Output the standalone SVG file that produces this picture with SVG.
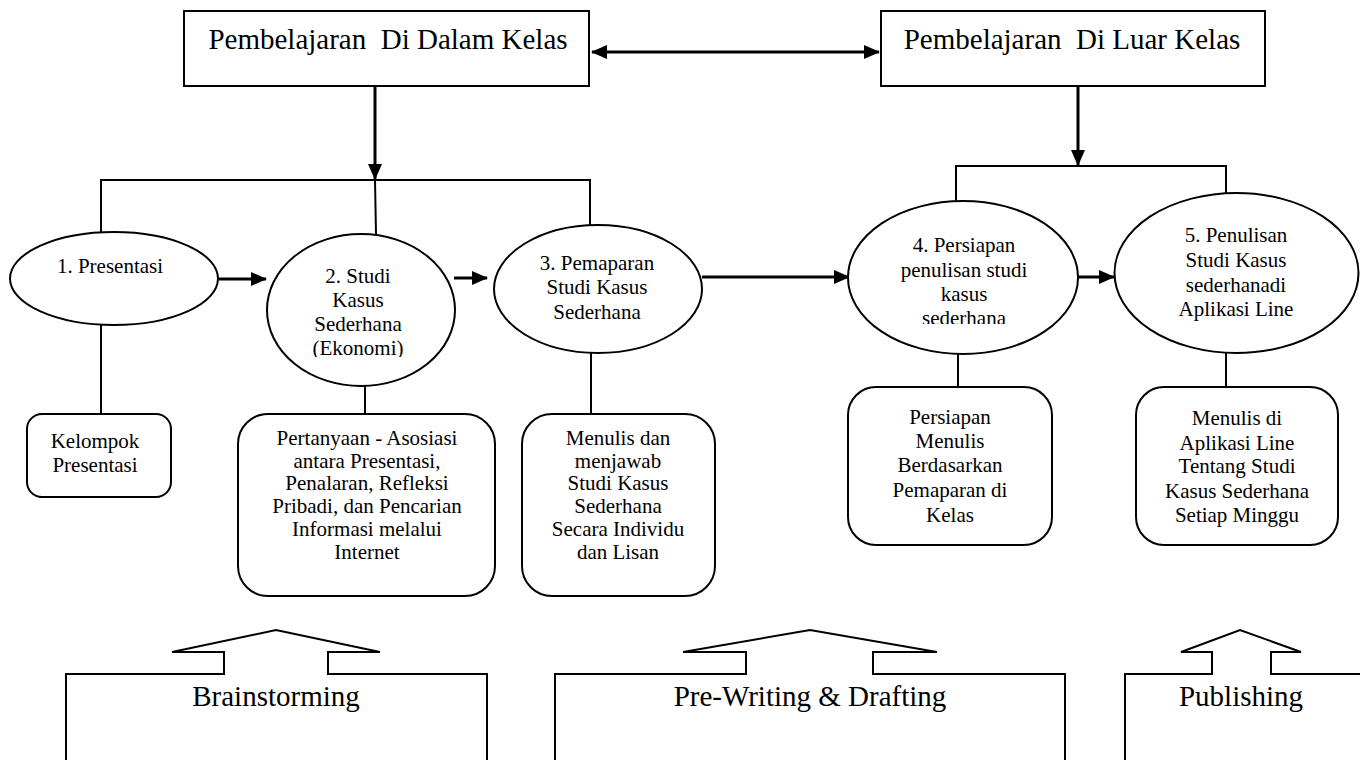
<svg xmlns="http://www.w3.org/2000/svg" width="1360" height="760" viewBox="0 0 1360 760">
<style>
  .shape { fill: #fff; stroke: #000; stroke-width: 2; }
  .line { fill: none; stroke: #000; stroke-width: 2; }
  .arrow { fill: none; stroke: #000; stroke-width: 3; }
  .outline { fill: none; stroke: #000; stroke-width: 2; stroke-linejoin: miter; }
  text { font-family: "Liberation Serif", "Times New Roman", serif; fill: #000; text-anchor: middle; }
  .head { font-size: 29px; }
  .t { font-size: 21px; }
</style>
<defs>
  <marker id="ah" markerUnits="userSpaceOnUse" markerWidth="16" markerHeight="14" refX="15" refY="7" orient="auto-start-reverse">
    <path d="M0,0 L16,7 L0,14 z" fill="#000"/>
  </marker>
  <clipPath id="clip2"><rect x="260" y="230" width="200" height="127"/></clipPath>
  <clipPath id="clip4"><rect x="840" y="195" width="250" height="129"/></clipPath>
</defs>

<g id="connectors">
  <line class="arrow" x1="592" y1="52" x2="879" y2="52" marker-start="url(#ah)" marker-end="url(#ah)"/>
  <line class="arrow" x1="375" y1="86" x2="375" y2="179" marker-end="url(#ah)"/>
  <line class="arrow" x1="1078" y1="86" x2="1078" y2="165" marker-end="url(#ah)"/>
  <polyline class="line" points="101,232 101,180 590,180 590,225"/>
  <line class="line" x1="375" y1="180" x2="376" y2="234"/>
  <polyline class="line" points="956,201 956,166 1226,166 1226,198"/>
  <line class="arrow" x1="219" y1="279" x2="266" y2="279" marker-end="url(#ah)"/>
  <line class="arrow" x1="454" y1="278" x2="487" y2="278" marker-end="url(#ah)"/>
  <line class="arrow" x1="702" y1="277" x2="849" y2="277" marker-end="url(#ah)"/>
  <line class="arrow" x1="1078" y1="277" x2="1114" y2="277" marker-end="url(#ah)"/>
  <line class="line" x1="101" y1="325" x2="101" y2="414"/>
  <line class="line" x1="365" y1="386" x2="365" y2="414"/>
  <line class="line" x1="591" y1="353" x2="591" y2="414"/>
  <line class="line" x1="958" y1="354" x2="958" y2="387"/>
  <line class="line" x1="1226" y1="353" x2="1226" y2="387"/>
</g>

<g id="box-dalam">
  <rect class="shape" x="184" y="11" width="405" height="75"/>
  <text class="head" x="388" y="49" xml:space="preserve">Pembelajaran  Di Dalam Kelas</text>
</g>
<g id="box-luar">
  <rect class="shape" x="881" y="11" width="384" height="75"/>
  <text class="head" x="1072" y="49" xml:space="preserve">Pembelajaran  Di Luar Kelas</text>
</g>

<g id="node1">
  <ellipse class="shape" cx="114" cy="278.5" rx="104" ry="46.5"/>
  <text class="t" x="110" y="273">1. Presentasi</text>
</g>
<g id="node2">
  <ellipse class="shape" cx="361" cy="310" rx="94" ry="76"/>
  <g clip-path="url(#clip2)">
    <text class="t" x="358" y="283">2. Studi</text>
    <text class="t" x="358" y="307">Kasus</text>
    <text class="t" x="358" y="331">Sederhana</text>
    <text class="t" x="358" y="355">(Ekonomi)</text>
  </g>
</g>
<g id="node3">
  <ellipse class="shape" cx="598" cy="289" rx="104" ry="64"/>
  <text class="t" x="597" y="270">3. Pemaparan</text>
  <text class="t" x="597" y="294">Studi Kasus</text>
  <text class="t" x="597" y="319">Sederhana</text>
</g>
<g id="node4">
  <ellipse class="shape" cx="963" cy="277.5" rx="115" ry="76.5"/>
  <g clip-path="url(#clip4)">
    <text class="t" x="964" y="252">4. Persiapan</text>
    <text class="t" x="964" y="277">penulisan studi</text>
    <text class="t" x="964" y="301">kasus</text>
    <text class="t" x="964" y="325">sederhana</text>
  </g>
</g>
<g id="node5">
  <ellipse class="shape" cx="1236.5" cy="273" rx="122" ry="80"/>
  <text class="t" x="1236" y="242">5. Penulisan</text>
  <text class="t" x="1236" y="267">Studi Kasus</text>
  <text class="t" x="1236" y="292">sederhanadi</text>
  <text class="t" x="1236" y="316">Aplikasi Line</text>
</g>

<g id="box-kelompok">
  <rect class="shape" x="27" y="414" width="144" height="83" rx="15" ry="15"/>
  <text class="t" x="95" y="448">Kelompok</text>
  <text class="t" x="95" y="472">Presentasi</text>
</g>
<g id="box-pertanyaan">
  <rect class="shape" x="238" y="414" width="257" height="182" rx="30" ry="30"/>
  <text class="t" x="367" y="445">Pertanyaan - Asosiasi</text>
  <text class="t" x="367" y="468">antara Presentasi,</text>
  <text class="t" x="367" y="490">Penalaran, Refleksi</text>
  <text class="t" x="367" y="513">Pribadi, dan Pencarian</text>
  <text class="t" x="367" y="536">Informasi melalui</text>
  <text class="t" x="367" y="559">Internet</text>
</g>
<g id="box-menulis">
  <rect class="shape" x="522" y="414" width="193" height="182" rx="30" ry="30"/>
  <text class="t" x="618" y="445">Menulis dan</text>
  <text class="t" x="618" y="468">menjawab</text>
  <text class="t" x="618" y="490">Studi Kasus</text>
  <text class="t" x="618" y="513">Sederhana</text>
  <text class="t" x="618" y="536">Secara Individu</text>
  <text class="t" x="618" y="559">dan Lisan</text>
</g>
<g id="box-persiapan">
  <rect class="shape" x="848" y="387" width="204" height="158" rx="28" ry="28"/>
  <text class="t" x="950" y="424">Persiapan</text>
  <text class="t" x="950" y="448">Menulis</text>
  <text class="t" x="950" y="472">Berdasarkan</text>
  <text class="t" x="950" y="497">Pemaparan di</text>
  <text class="t" x="950" y="522">Kelas</text>
</g>
<g id="box-line">
  <rect class="shape" x="1136" y="387" width="202" height="158" rx="28" ry="28"/>
  <text class="t" x="1237" y="425">Menulis di</text>
  <text class="t" x="1237" y="450">Aplikasi Line</text>
  <text class="t" x="1237" y="473">Tentang Studi</text>
  <text class="t" x="1237" y="498">Kasus Sederhana</text>
  <text class="t" x="1237" y="522">Setiap Minggu</text>
</g>

<g id="stage-brainstorming">
  <polyline class="outline" points="66,762 66,674 224,674 224,652 172,652 276,630 380,652 328,652 328,674 487,674 487,762"/>
  <text class="head" x="276" y="706">Brainstorming</text>
</g>
<g id="stage-prewriting">
  <polyline class="outline" points="555,762 555,674 746,674 746,652 683,652 810,630 937,652 873,652 873,674 1065,674 1065,762"/>
  <text class="head" x="810" y="706">Pre-Writing &amp; Drafting</text>
</g>
<g id="stage-publishing">
  <polyline class="outline" points="1125,762 1125,674 1212,674 1212,652 1181,652 1240,630 1301,652 1271,652 1271,674 1362,674"/>
  <text class="head" x="1241" y="706">Publishing</text>
</g>
</svg>
